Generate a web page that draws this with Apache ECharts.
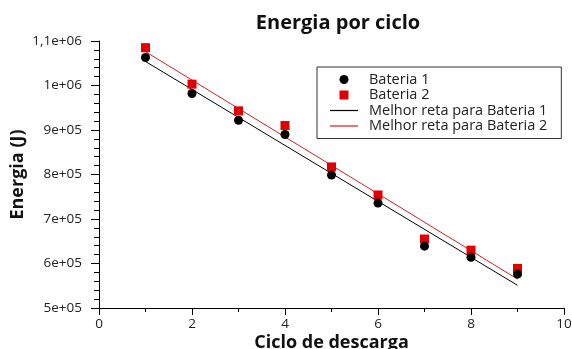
<!DOCTYPE html>
<html>
<head>
<meta charset="utf-8">
<script src="https://cdn.jsdelivr.net/npm/echarts@6/dist/echarts.min.js"></script>
<style>html,body{margin:0;padding:0;background:#fff}#c{width:572px;height:349px}</style>
</head>
<body>
<div id="c"></div>
<script>
const cycles = [1, 2, 3, 4, 5, 6, 7, 8, 9];
const bateria1 = [1063000, 982000, 922000, 890000, 799000, 736000, 639000, 614000, 576000];
const bateria2 = [1085000, 1003000, 943000, 910000, 817000, 754000, 655000, 630000, 589000];
const fitX = [1, 9];
const fit1 = [1054000, 551000];
const fit2 = [1076000, 565000];
const yTickValues = [500000, 600000, 700000, 800000, 900000, 1000000, 1100000];
const yTickLabels = ['5e+05', '6e+05', '7e+05', '8e+05', '9e+05', '1e+06', '1,1e+06'];
const seriesNames = ['Bateria 1', 'Bateria 2', 'Melhor reta para Bateria 1', 'Melhor reta para Bateria 2'];

const FONT = '"Open Sans", sans-serif';
const RED = '#e00000';
const RED_LINE = '#d02020';
const chart = echarts.init(document.getElementById('c'), null, {renderer: 'canvas'});
const pairs = (xs, ys) => xs.map((x, i) => [x, ys[i]]);
const LINE_ICON = 'path://M0,0H28V1.2H0Z';
const SQUARE_ICON = 'path://M0,0H1V1H0Z';

chart.setOption({
  animation: false,
  backgroundColor: '#fff',
  title: {
    text: 'Energia por ciclo',
    left: 333, top: 8, textAlign: 'center',
    textStyle: {fontFamily: FONT, fontWeight: 'bold', fontSize: 20, color: '#111'}
  },
  grid: {left: 99, right: 8, top: 41, bottom: 41, containLabel: false, outerBoundsMode: 'none'},
  legend: {
    data: [
      {name: seriesNames[0], icon: 'circle', itemStyle: {color: '#000'}},
      {name: seriesNames[1], icon: SQUARE_ICON, itemStyle: {color: RED}},
      {name: seriesNames[2], icon: LINE_ICON, itemStyle: {color: '#000'}},
      {name: seriesNames[3], icon: LINE_ICON, itemStyle: {color: RED_LINE}}
    ],
    orient: 'vertical',
    left: 317, top: 67,
    borderColor: '#333', borderWidth: 1,
    padding: [5, 14, 5, 13],
    itemWidth: 28, itemHeight: 9, itemGap: 0.5,
    symbolKeepAspect: true,
    textStyle: {fontFamily: FONT, fontSize: 14.5, color: '#222', padding: [0, 0, 0, 6]}
  },
  xAxis: {
    type: 'value', min: 0, max: 10, interval: 2,
    name: 'Ciclo de descarga', nameLocation: 'middle', nameGap: 26, nameMoveOverlap: false,
    nameTextStyle: {fontFamily: FONT, fontWeight: 'bold', fontSize: 18, color: '#111'},
    axisLine: {show: true, lineStyle: {color: '#000', width: 1}},
    axisTick: {show: true, inside: false, length: 7, lineStyle: {color: '#000'}},
    minorTick: {show: true, splitNumber: 2, length: 4, lineStyle: {color: '#000'}},
    axisLabel: {fontFamily: FONT, fontSize: 13.5, color: '#222', margin: 9},
    splitLine: {show: false}
  },
  yAxis: {
    type: 'value', min: 500000, max: 1100000, interval: 100000,
    name: 'Energia (J)', nameLocation: 'middle', nameGap: 72, nameMoveOverlap: false,
    nameTextStyle: {fontFamily: FONT, fontWeight: 'bold', fontSize: 18, color: '#111'},
    axisLine: {show: true, lineStyle: {color: '#000', width: 1}},
    axisTick: {show: true, inside: false, length: 8, lineStyle: {color: '#000'}},
    minorTick: {show: true, splitNumber: 5, length: 5, lineStyle: {color: '#000'}},
    axisLabel: {
      fontFamily: FONT, fontSize: 13.5, color: '#222', margin: 17,
      formatter: v => { const i = yTickValues.indexOf(v); return i >= 0 ? yTickLabels[i] : ''; }
    },
    splitLine: {show: false}
  },
  series: [
    {name: seriesNames[0], type: 'scatter', symbol: 'circle', symbolSize: 9,
     itemStyle: {color: '#000', opacity: 1}, data: pairs(cycles, bateria1), z: 4},
    {name: seriesNames[1], type: 'scatter', symbol: 'rect', symbolSize: 9,
     itemStyle: {color: RED, opacity: 1}, data: pairs(cycles, bateria2), z: 3},
    {name: seriesNames[2], type: 'line', symbol: 'none', showSymbol: false,
     lineStyle: {color: '#000', width: 1}, itemStyle: {color: '#000'}, data: pairs(fitX, fit1), z: 2},
    {name: seriesNames[3], type: 'line', symbol: 'none', showSymbol: false,
     lineStyle: {color: RED_LINE, width: 1}, itemStyle: {color: RED_LINE}, data: pairs(fitX, fit2), z: 2}
  ]
});
</script>
</body>
</html>
